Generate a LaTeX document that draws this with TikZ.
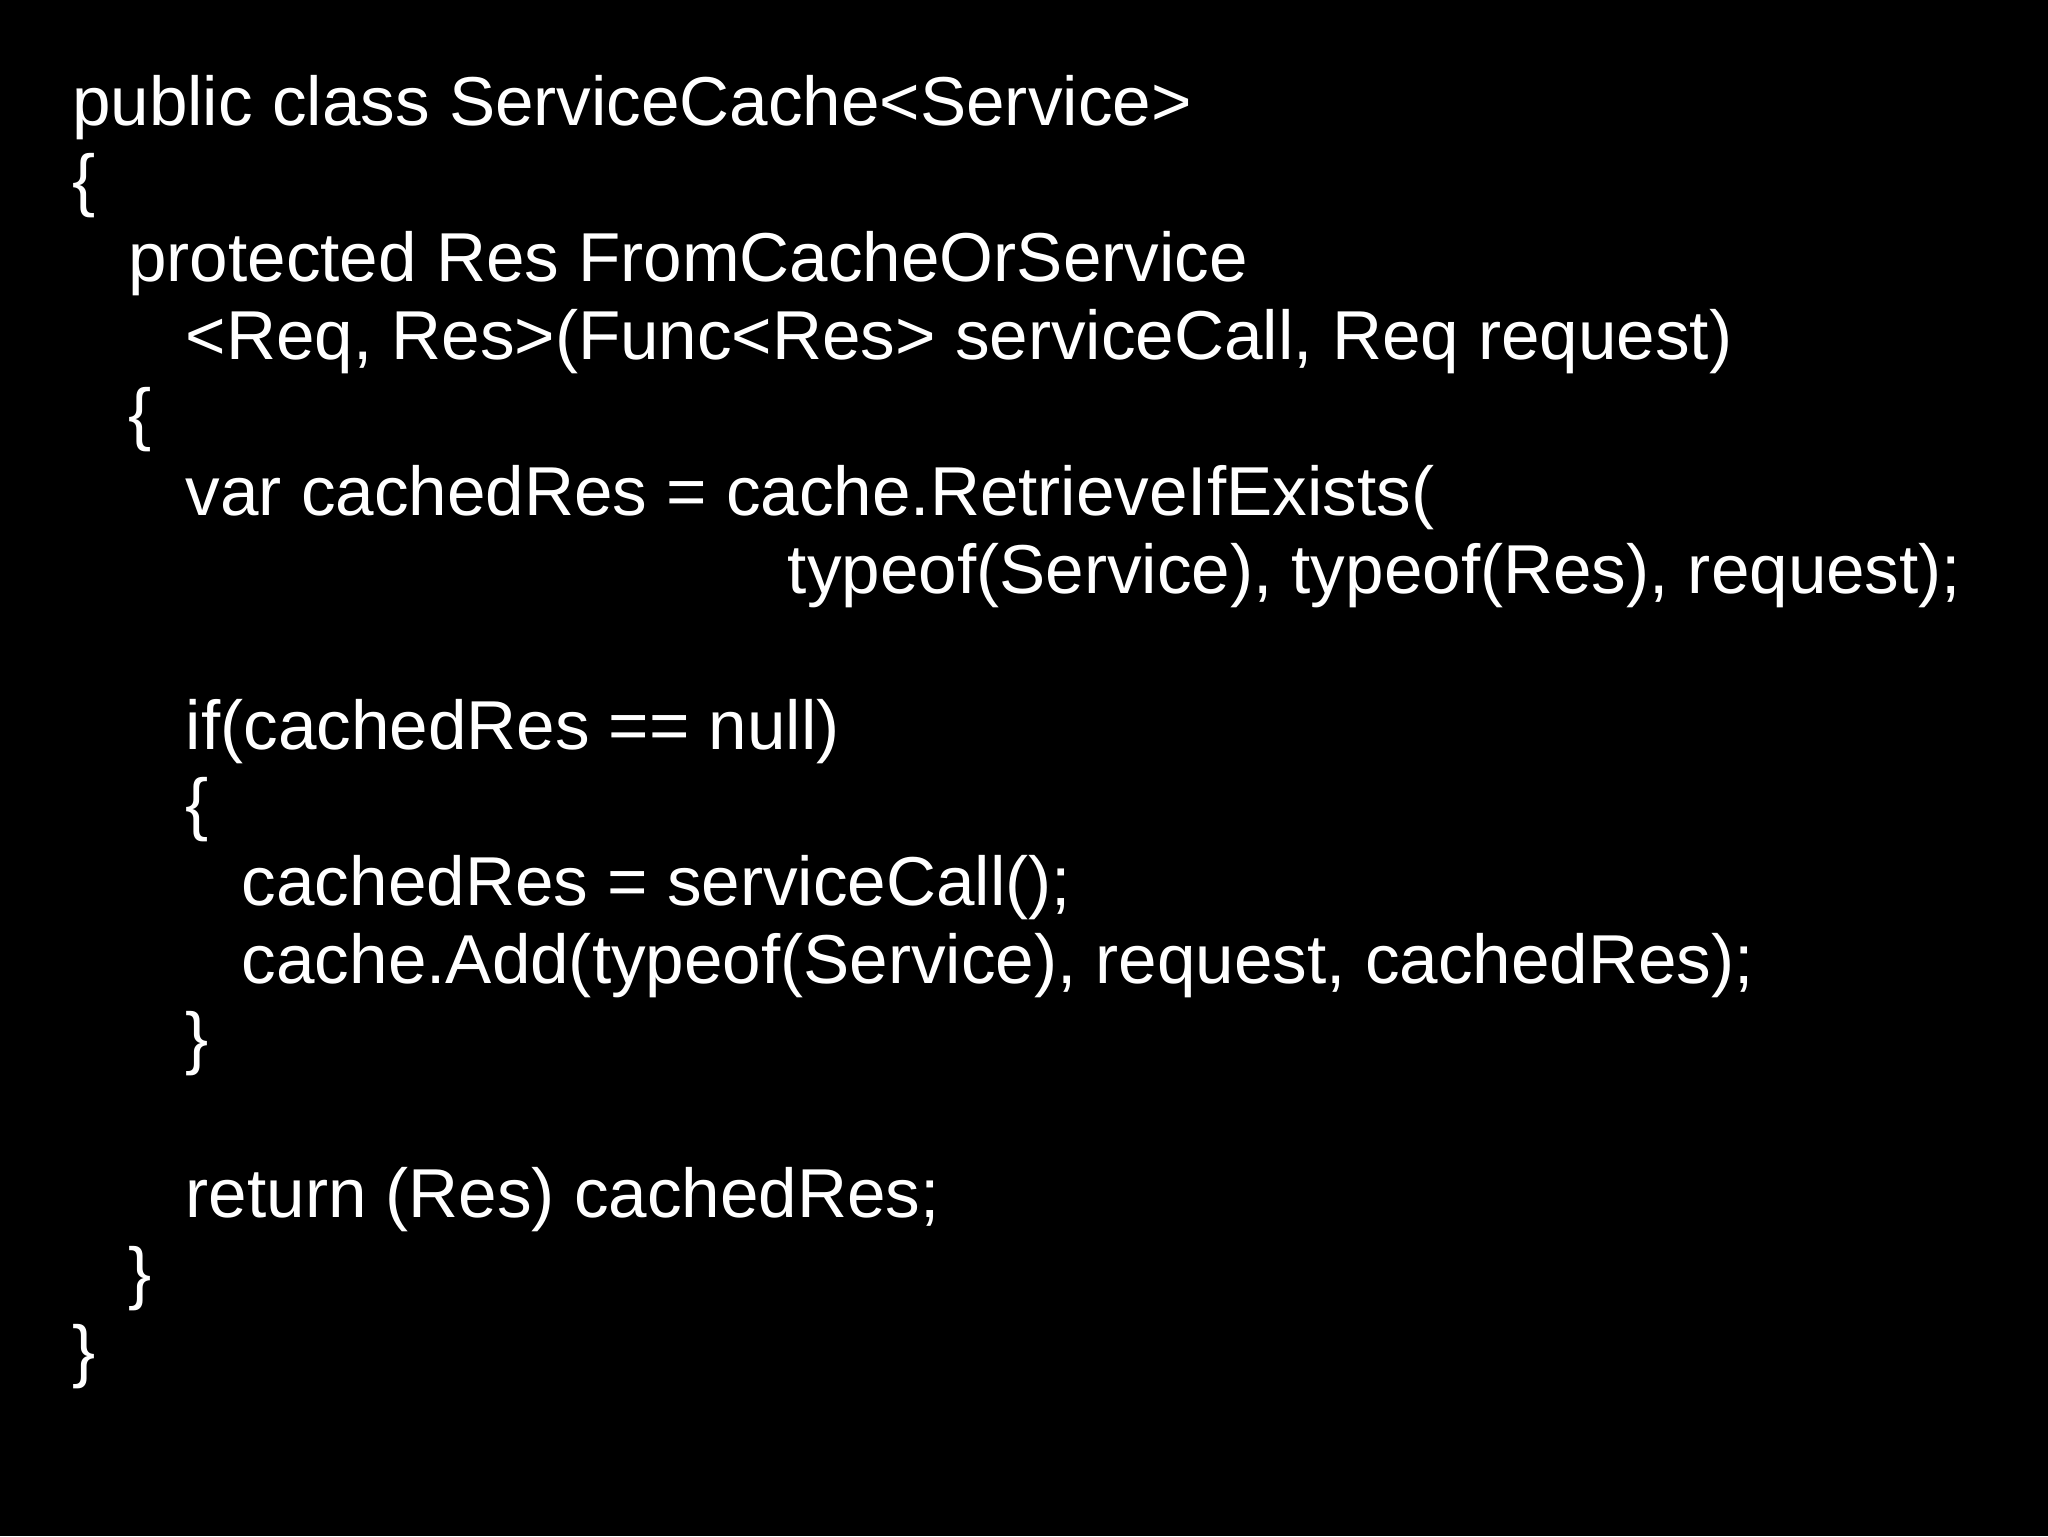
\documentclass[tikz,border=0pt]{standalone}
\usepackage{fontspec}
\setmainfont{Liberation Sans}
\begin{document}
\begin{tikzpicture}[x=1pt,y=1pt,code/.style={anchor=base west,inner sep=0pt,text=white,font=\fontsize{53}{60}\selectfont}]
\fill[black] (0,0) rectangle (1568,-1176);
\useasboundingbox (0,0) rectangle (1568,-1176);
\def\bl#1{-96-59.75*#1}
\node[code] (l0) at (55,{\bl{0}}) {public class ServiceCache<Service>};
\node[code] (l1) at (55,{\bl{1}}) {\{};
\node[code] (l2) at (98,{\bl{2}}) {protected Res FromCacheOrService};
\node[code] (l3) at (142,{\bl{3}}) {<Req, Res>(Func<Res> serviceCall, Req request)};
\node[code] (l4) at (98,{\bl{4}}) {\{};
\node[code] (l5) at (142,{\bl{5}}) {var cachedRes = cache.RetrieveIfExists(};
\node[code] (l6) at (603,{\bl{6}}) {typeof(Service), typeof(Res), request);};
\node[code] (l8) at (142,{\bl{8}}) {if(cachedRes == null)};
\node[code] (l9) at (142,{\bl{9}}) {\{};
\node[code] (l10) at (185,{\bl{10}}) {cachedRes = serviceCall();};
\node[code] (l11) at (185,{\bl{11}}) {cache.Add(typeof(Service), request, cachedRes);};
\node[code] (l12) at (142,{\bl{12}}) {\}};
\node[code] (l14) at (142,{\bl{14}}) {return (Res) cachedRes;};
\node[code] (l15) at (98,{\bl{15}}) {\}};
\node[code] (l16) at (55,{\bl{16}}) {\}};
\end{tikzpicture}
\end{document}
